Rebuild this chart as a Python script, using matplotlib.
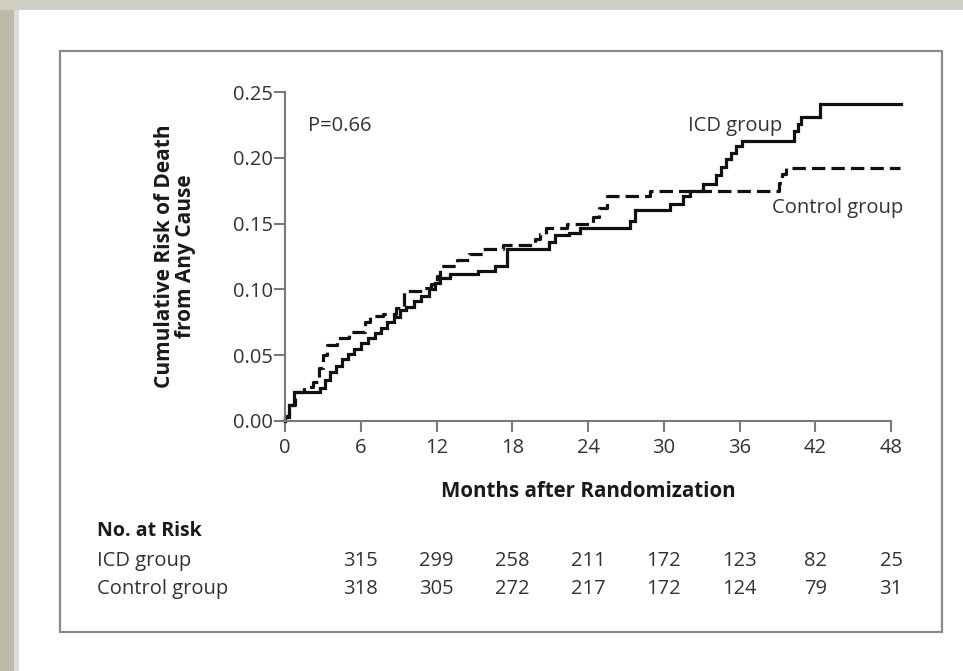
import matplotlib
matplotlib.use("Agg")
import matplotlib.pyplot as plt
from matplotlib.patches import Rectangle
from matplotlib.transforms import blended_transform_factory

plt.rcParams['font.family'] = ['Open Sans', 'DejaVu Sans']

# cumulative risk of death, step values after each event (months, risk)
icd_months = [0, 0.3, 0.7, 2.8, 3.2, 3.6, 4.0, 4.5, 5.0, 5.5, 6.0, 6.6, 7.1, 7.6, 8.1,
              8.6, 9.1, 9.6, 10.2, 10.8, 11.4, 11.9, 12.3, 13.1, 15.3, 16.6, 17.6,
              20.9, 21.4, 22.5, 23.4, 27.3, 27.7, 30.5, 31.5, 32.1, 33.1, 34.1, 34.5,
              34.9, 35.3, 35.7, 36.2, 40.3, 40.6, 40.9, 42.4, 48.8]
icd_risk = [0.003, 0.012, 0.022, 0.025, 0.031, 0.037, 0.042, 0.047, 0.051, 0.055, 0.059,
            0.063, 0.067, 0.071, 0.075, 0.079, 0.084, 0.087, 0.091, 0.095, 0.100, 0.105,
            0.109, 0.112, 0.114, 0.118, 0.131, 0.136, 0.141, 0.143, 0.147, 0.152, 0.160,
            0.165, 0.171, 0.175, 0.180, 0.187, 0.193, 0.199, 0.204, 0.209, 0.213, 0.220,
            0.226, 0.231, 0.241, 0.241]

ctl_months = [0, 0.3, 0.8, 1.5, 2.2, 2.7, 3.0, 3.3, 4.1, 5.1, 6.3, 6.7, 7.8, 8.8, 9.4,
              11.0, 11.6, 12.0, 12.3, 13.6, 14.6, 15.7, 17.3, 19.8, 20.2, 20.7, 22.3,
              24.4, 24.9, 25.5, 28.9, 39.1, 39.4, 39.7, 48.7]
ctl_risk = [0.004, 0.012, 0.022, 0.026, 0.030, 0.040, 0.050, 0.058, 0.063, 0.068, 0.075,
            0.080, 0.081, 0.086, 0.099, 0.101, 0.104, 0.110, 0.118, 0.122, 0.127, 0.131,
            0.134, 0.138, 0.142, 0.147, 0.150, 0.155, 0.162, 0.171, 0.175, 0.181, 0.188,
            0.192, 0.192]

x_ticks = [0, 6, 12, 18, 24, 30, 36, 42, 48]
y_ticks = [0.00, 0.05, 0.10, 0.15, 0.20, 0.25]

# numbers at risk
risk_months = [6, 12, 18, 24, 30, 36, 42, 48]
icd_at_risk = [315, 299, 258, 211, 172, 123, 82, 25]
ctl_at_risk = [318, 305, 272, 217, 172, 124, 79, 31]

W, H = 963, 671
fig = plt.figure(figsize=(W / 100, H / 100), dpi=100)
fig.patch.set_facecolor("white")

# page edges
fig.add_artist(Rectangle((0, 0), 14 / W, 1, transform=fig.transFigure,
                         facecolor="#bdbaa9", edgecolor="none"))
fig.add_artist(Rectangle((14 / W, 0), 5 / W, 1, transform=fig.transFigure,
                         facecolor="#dcdcdc", edgecolor="none"))
fig.add_artist(Rectangle((0, 1 - 10 / H), 1, 10 / H, transform=fig.transFigure,
                         facecolor="#d2d0c4", edgecolor="none"))

# frame around the figure panel
fig.add_artist(Rectangle((60 / W, 39 / H), 882 / W, 581 / H, transform=fig.transFigure,
                         facecolor="none", edgecolor="#8a8a8a", linewidth=1.6))

ax = fig.add_axes([285 / W, 1 - 421 / H, 606 / W, 329 / H])
ax.set_facecolor("none")

ink = "#111111"
ax.step([0] + icd_months, [0] + icd_risk, where="post", color=ink, linewidth=2.3,
        clip_on=False, solid_joinstyle="miter")
ax.step([0] + ctl_months, [0] + ctl_risk, where="post", color=ink, linewidth=2.3,
        linestyle=(0, (4.2, 1.9)), clip_on=False)

ax.set_xlim(0, 48)
ax.set_ylim(0, 0.25)
ax.set_xticks(x_ticks)
ax.set_yticks(y_ticks)
ax.set_yticklabels([f"{v:.2f}" for v in y_ticks])

for side in ["top", "right"]:
    ax.spines[side].set_visible(False)
for side in ["left", "bottom"]:
    ax.spines[side].set_color("#7a7a7a")
    ax.spines[side].set_linewidth(1.5)

fs = 14.5
ax.tick_params(axis="both", colors="#7a7a7a", width=1.5, length=8,
               labelsize=fs, labelcolor="#333333")
ax.tick_params(axis="x", pad=4)
ax.tick_params(axis="y", pad=1)

text_col = "#333333"
ax.text(1.8, 0.224, "P=0.66", fontsize=fs, color=text_col, va="center", ha="left")
ax.text(39.4, 0.2245, "ICD group", fontsize=fs, color=text_col, va="center", ha="right")
ax.text(38.6, 0.162, "Control group", fontsize=fs, color=text_col, va="center", ha="left")

ax.set_xlabel("Months after Randomization", fontsize=14.8, fontweight="bold",
              color="#1a1a1a", labelpad=17)
fig.text(175 / W, 1 - 256 / H, "Cumulative Risk of Death\nfrom Any Cause",
         rotation=90, ha="center", va="center", multialignment="center",
         fontsize=15, fontweight="bold", color="#1a1a1a", linespacing=0.95)

# numbers-at-risk table
fig.text(97 / W, 1 - 531 / H, "No. at Risk", fontsize=14, fontweight="bold",
         color="#1a1a1a", va="center", ha="left")
fig.text(97 / W, 1 - 561 / H, "ICD group", fontsize=fs, color=text_col,
         va="center", ha="left")
fig.text(97 / W, 1 - 589 / H, "Control group", fontsize=fs, color=text_col,
         va="center", ha="left")

tr = blended_transform_factory(ax.transData, fig.transFigure)
for m, a, b in zip(risk_months, icd_at_risk, ctl_at_risk):
    ax.text(m, 1 - 561 / H, str(a), transform=tr, fontsize=fs, color=text_col,
            ha="center", va="center")
    ax.text(m, 1 - 589 / H, str(b), transform=tr, fontsize=fs, color=text_col,
            ha="center", va="center")

fig.savefig("out.png", dpi=100)
